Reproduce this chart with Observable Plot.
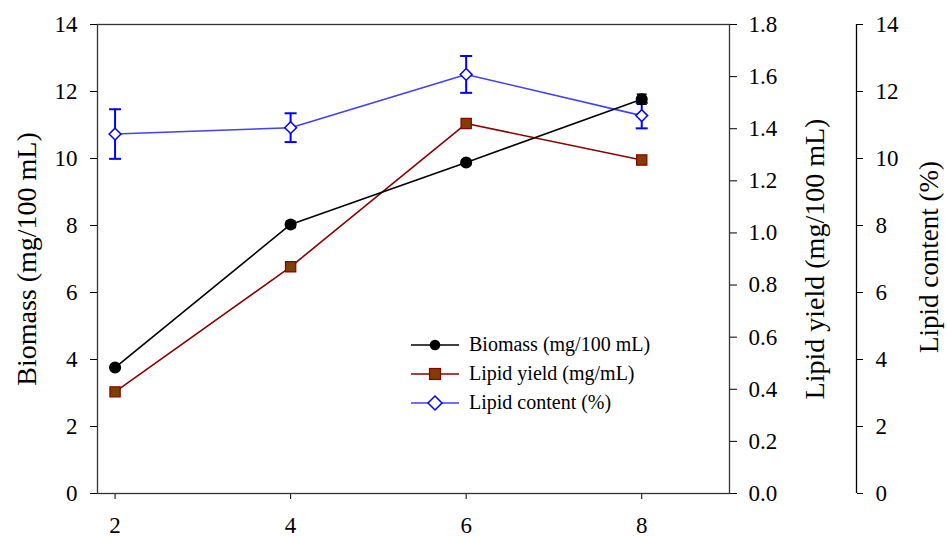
<!DOCTYPE html>
<html>
<head>
<meta charset="utf-8">
<script src="https://cdn.jsdelivr.net/npm/d3@7"></script>
<script src="https://cdn.jsdelivr.net/npm/@observablehq/plot@0.6"></script>
<style>
  html, body { margin: 0; padding: 0; background: #fff; }
  #wrap { position: relative; width: 947px; height: 537px; }
  #legend { position: absolute; left: 411px; top: 330px; font-family: "Liberation Serif", "Times New Roman", serif; font-size: 20px; color: #000; }
  #legend .row { display: flex; align-items: center; height: 29px; }
  #legend svg { margin-right: 10px; overflow: visible; }
</style>
</head>
<body>
<div id="wrap"><div id="legend"></div></div>
<script>
// ---- data ----
const days = [2, 4, 6, 8];
const biomass = [3.76, 8.03, 9.88, 11.77];
const biomassErr = [0.05, 0.1, 0.08, 0.15];
const lipidYield = [0.39, 0.87, 1.42, 1.28];
const lipidContent = [10.73, 10.92, 12.51, 11.28];
const lipidContentErr = [0.74, 0.43, 0.55, 0.38];

const xDomain = [1.8, 9];
const xTicks = [2, 4, 6, 8];
const biomassDomain = [0, 14];
const biomassTicks = [0, 2, 4, 6, 8, 10, 12, 14];
const yieldMax = 1.8;
const yieldTicks = [0, 0.2, 0.4, 0.6, 0.8, 1.0, 1.2, 1.4, 1.6, 1.8];
const contentTicks = [0, 2, 4, 6, 8, 10, 12, 14];

const seriesNames = ["Biomass (mg/100 mL)", "Lipid yield (mg/mL)", "Lipid content (%)"];
const axisTitles = ["Biomass (mg/100 mL)", "Lipid yield (mg/100 mL)", "Lipid content (%)"];

// ---- derived tables ----
const k = biomassDomain[1] / yieldMax; // lipid yield -> left scale
const rows = days.map((d, i) => ({
  day: d,
  biomass: biomass[i],
  bLo: biomass[i] - biomassErr[i],
  bHi: biomass[i] + biomassErr[i],
  yieldY: lipidYield[i] * k,
  content: lipidContent[i],
  cLo: lipidContent[i] - lipidContentErr[i],
  cHi: lipidContent[i] + lipidContentErr[i]
}));

const cap = { draw(ctx, size) { const w = Math.sqrt(size / Math.PI); ctx.moveTo(-w, 0); ctx.lineTo(w, 0); } };

const BLUE = "#0000ff", BLUE_LINE = "#4040ff", RED = "#8b0000", BROWN = "#7f3f00";
const FONT = "'Liberation Serif', 'Times New Roman', serif";

const chart = Plot.plot({
  width: 947, height: 537,
  marginLeft: 97, marginRight: 218, marginTop: 24, marginBottom: 44,
  x: { domain: xDomain },
  y: { domain: biomassDomain },
  style: { fontFamily: FONT, fontSize: "23px", color: "#000", background: "#fff", overflow: "visible" },
  marks: [
    Plot.axisX({ ticks: xTicks, tickSize: 6, tickPadding: 17, label: null, fontSize: 23 }),
    Plot.axisY({ anchor: "left", ticks: biomassTicks, tickSize: 7, tickPadding: 13, label: null, fontSize: 23 }),
    Plot.axisY({ anchor: "right", ticks: yieldTicks.map(t => t * k), tickFormat: d => (d / k).toFixed(1), tickSize: 7, tickPadding: 12, label: null, fontSize: 23 }),
    Plot.axisY({ anchor: "right", ticks: contentTicks, dx: 127, tickSize: 6, tickPadding: 13, label: null, fontSize: 23 }),
    Plot.ruleX([xDomain[1]], { dx: 127, stroke: "#000", strokeWidth: 1.3 }),
    Plot.frame({ stroke: "#333", strokeWidth: 1.3 }),
    Plot.text([axisTitles[0]], { frameAnchor: "left", textAnchor: "middle", dx: -70, rotate: -90, fontSize: 28 }),
    Plot.text([axisTitles[1]], { frameAnchor: "right", textAnchor: "middle", dx: 86, rotate: -90, fontSize: 28 }),
    Plot.text([axisTitles[2]], { frameAnchor: "right", textAnchor: "middle", dx: 200, dy: -2, rotate: -90, fontSize: 27 }),
    // lipid content
    Plot.line(rows, { x: "day", y: "content", stroke: BLUE_LINE, strokeWidth: 1.6 }),
    Plot.ruleX(rows, { x: "day", y1: "cLo", y2: "cHi", stroke: BLUE, strokeWidth: 2 }),
    Plot.dot(rows, { x: "day", y: "cLo", symbol: cap, r: 6, stroke: BLUE, strokeWidth: 2 }),
    Plot.dot(rows, { x: "day", y: "cHi", symbol: cap, r: 6, stroke: BLUE, strokeWidth: 2 }),
    Plot.dot(rows, { x: "day", y: "content", symbol: "diamond2", r: 5.3, fill: "#fff", stroke: BLUE, strokeWidth: 1.5 }),
    // lipid yield
    Plot.line(rows, { x: "day", y: "yieldY", stroke: RED, strokeWidth: 1.6 }),
    Plot.dot(rows, { x: "day", y: "yieldY", symbol: "square", r: 5.8, fill: BROWN, stroke: RED, strokeWidth: 1.2 }),
    // biomass
    Plot.line(rows, { x: "day", y: "biomass", stroke: "#000", strokeWidth: 1.6 }),
    Plot.ruleX(rows, { x: "day", y1: "bLo", y2: "bHi", stroke: "#000", strokeWidth: 1.5 }),
    Plot.dot(rows, { x: "day", y: "bLo", symbol: cap, r: 5, stroke: "#000", strokeWidth: 1.5 }),
    Plot.dot(rows, { x: "day", y: "bHi", symbol: cap, r: 5, stroke: "#000", strokeWidth: 1.5 }),
    Plot.dot(rows, { x: "day", y: "biomass", r: 5.3, fill: "#000", stroke: "#000" })
  ]
});
document.getElementById("wrap").prepend(chart);

// ---- legend ----
const legendItems = [
  { name: seriesNames[0], line: "#000", marker: '<circle cx="24" cy="10" r="5.3" fill="#000"/>' },
  { name: seriesNames[1], line: RED, marker: `<rect x="18.5" y="4.5" width="11" height="11" fill="${BROWN}" stroke="${RED}" stroke-width="1.2"/>` },
  { name: seriesNames[2], line: BLUE_LINE, marker: `<path d="M24,3 L31,10 L24,17 L17,10 Z" fill="#fff" stroke="${BLUE}" stroke-width="1.5"/>` }
];
const legend = document.getElementById("legend");
for (const it of legendItems) {
  const row = document.createElement("div");
  row.className = "row";
  row.innerHTML = `<svg width="48" height="20"><line x1="0" y1="10" x2="48" y2="10" stroke="${it.line}" stroke-width="1.6"/>${it.marker}</svg><span>${it.name}</span>`;
  legend.appendChild(row);
}
</script>
</body>
</html>
